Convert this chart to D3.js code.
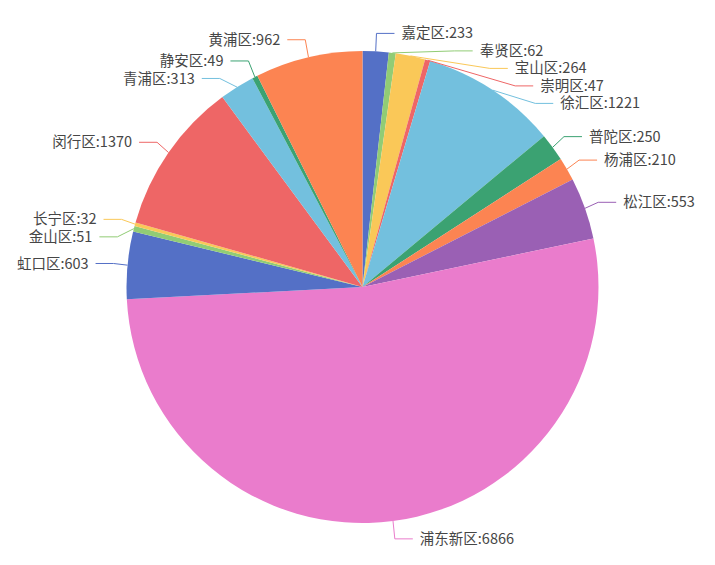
<!DOCTYPE html>
<html>
<head>
<meta charset="utf-8">
<script src="https://cdn.jsdelivr.net/npm/d3@7"></script>
<style>
  body { margin: 0; background: #fff; }
  text { font-family: "Noto Sans CJK SC", "Noto Sans", sans-serif; }
</style>
</head>
<body>
<div id="chart"></div>
<script>
var names = ["嘉定区", "奉贤区", "宝山区", "崇明区", "徐汇区", "普陀区", "杨浦区", "松江区",
             "浦东新区", "虹口区", "金山区", "长宁区", "闵行区", "青浦区", "静安区", "黄浦区"];
var values = [233, 62, 264, 47, 1221, 250, 210, 553, 6866, 603, 51, 32, 1370, 313, 49, 962];
var palette = ["#5470c6", "#91cc75", "#fac858", "#ee6666", "#73c0de", "#3ba272", "#fc8452", "#9a60b4", "#ea7ccc"];

var w = 715, h = 565;
var cx = 362.5, cy = 287, r = 236;
var rx = 250, ry = 254;     // where label lines bend
var len2 = 18, gap = 7, lineH = 17.5;

var data = names.map(function(n, i) { return {name: n, value: values[i]}; });

var color = d3.scaleOrdinal().domain(names).range(palette);
var pie = d3.pie().sort(null).value(function(d) { return d.value; });
var arc = d3.arc().innerRadius(0).outerRadius(r);

var svg = d3.select("#chart").append("svg")
    .attr("width", w)
    .attr("height", h);

var g = svg.append("g").attr("transform", "translate(" + cx + "," + cy + ")");
var arcs = pie(data);

g.selectAll("path.slice")
    .data(arcs)
  .enter().append("path")
    .attr("class", "slice")
    .attr("fill", function(d) { return color(d.data.name); })
    .attr("d", arc);

// label layout: natural position, then push overlapping labels down per side
var labels = arcs.map(function(d) {
  var a = (d.startAngle + d.endAngle) / 2;
  var side = Math.sin(a) >= 0 ? 1 : -1;
  return {d: d, a: a, side: side, y: -ry * Math.cos(a)};
});
[1, -1].forEach(function(s) {
  var list = labels.filter(function(l) { return l.side === s; })
    .sort(function(p, q) { return p.y - q.y; });
  for (var i = 1; i < list.length; i++) {
    if (list[i].y - list[i - 1].y < lineH) list[i].y = list[i - 1].y + lineH;
  }
});
labels.forEach(function(l) {
  var k = Math.max(0, 1 - (l.y * l.y) / (ry * ry));
  l.x = l.side * rx * Math.sqrt(k);
});

g.selectAll("polyline")
    .data(labels)
  .enter().append("polyline")
    .attr("fill", "none")
    .attr("stroke", function(l) { return color(l.d.data.name); })
    .attr("stroke-width", 1)
    .attr("points", function(l) {
      var p0 = [r * Math.sin(l.a), -r * Math.cos(l.a)];
      return [p0, [l.x, l.y], [l.x + l.side * len2, l.y]].join(" ");
    });

g.selectAll("text.lbl")
    .data(labels)
  .enter().append("text")
    .attr("class", "lbl")
    .attr("x", function(l) { return l.x + l.side * (len2 + gap); })
    .attr("y", function(l) { return l.y; })
    .attr("dy", "0.35em")
    .attr("text-anchor", function(l) { return l.side > 0 ? "start" : "end"; })
    .attr("fill", "#464646")
    .style("font-size", "14.5px")
    .text(function(l) { return l.d.data.name + ":" + l.d.data.value; });
</script>
</body>
</html>
